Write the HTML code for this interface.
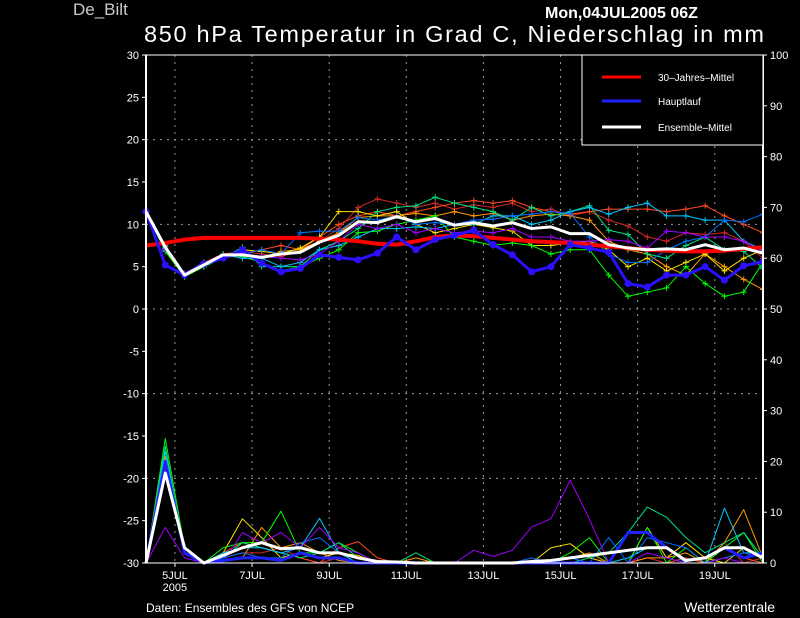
<!DOCTYPE html>
<html><head><meta charset="utf-8"><style>
html,body{margin:0;padding:0;background:#000;}
svg{display:block;font-family:"Liberation Sans",sans-serif;}
</style></head><body>
<svg id="c" width="800" height="618" xmlns="http://www.w3.org/2000/svg"></svg>
<script>
const tempTicks=[30,25,20,15,10,5,0,-5,-10,-15,-20,-25,-30];
const rainTicks=[0,10,20,30,40,50,60,70,80,90,100];
const dateLabels=["5JUL","7JUL","9JUL","11JUL","13JUL","15JUL","17JUL","19JUL"];
const dateDays=[0,2,4,6,8,10,12,14];
const climTemp=[7.5,7.8,8.2,8.4,8.4,8.4,8.4,8.4,8.4,8.3,8.2,8.0,7.7,7.6,8.0,8.5,8.7,8.6,8.4,8.2,8.0,7.9,7.8,7.6,7.4,7.2,7.0,6.9,6.8,6.8,6.9,7.1,7.3];
const mainTemp=[11.5,5.2,4.0,5.3,6.0,7.0,5.4,4.4,4.8,6.4,6.1,5.8,6.6,8.5,7.0,8.2,8.7,9.3,7.6,6.4,4.4,5.0,7.6,7.2,6.7,3.0,2.6,4.0,4.0,5.0,3.4,5.1,5.6];
const meanTemp=[11.5,7.3,4.0,5.2,6.4,6.4,6.1,6.5,6.7,7.9,8.7,10.3,10.2,10.9,10.3,10.7,9.9,10.2,9.8,10.2,9.5,9.7,8.9,8.9,7.6,7.2,7.0,7.1,7.0,7.6,7.0,7.2,6.6];
const memberTemps=[
[11.5,7,4,5.5,6.5,6.8,6.5,6.2,6.8,8,9.5,12,13,12.5,12,12.5,11.8,12.3,12,12.5,11.5,11.8,11,11.5,10.5,9.8,8.5,8,9,8.8,9,8,6],
[11.3,7.5,4,5,6.2,6.5,7,7.5,7,8.5,10,11,11.5,11,11.5,12,12.5,12.8,12.5,12.8,12,11.5,11.2,11.5,11.8,11.8,11.8,11.5,11.8,12.2,11,10,9],
[11.4,7.2,4.2,5.5,6,6.5,6,6.8,7,8,9,10.8,11,11,11.3,11,11.5,11,11.3,10.5,11,11.2,11,10.5,8,7,6.5,5,4,6.5,5,3.5,2.3],
[11.5,7,4,5.2,6.2,7,6.8,6.5,7.2,8.5,11.5,11.5,11,11.5,10,9,9.5,10,9.6,9.2,7.5,7.5,7.8,8,7,5,6,4.5,5.5,6.5,4.5,6,7],
[11.5,6.8,3.8,5,6.5,6.2,5.5,4.5,5,6,7,9,9.2,10,10.5,11,8.5,8,7.5,7.8,7.5,6.5,7,7,4,1.5,2,2.5,5,3,1.5,2,5.5],
[11.2,7,4,5,6,7.3,5,5,5,7,8,9.5,11.5,12,12.2,13.2,12.5,12,11.5,10.5,12,11,11.5,12.2,9.3,8.8,6.5,6,7.5,8.5,7,6.8,4.8],
[11.5,7.4,4,5.3,6.4,6,6,5,5.5,7,7.5,8.5,9.5,9.5,9.7,9.5,10,10,11,11,10,10.5,11.5,12,11.2,12,12.5,11,11,10.5,10.5,8,7],
[11.5,7,4.2,5.5,6,6.5,7,6.5,9,9.2,9.2,10.8,10.5,11,10,10.2,10,10.5,10.6,11,11.2,11.5,11.3,8.5,6.5,5.5,5.5,7,8,8.5,10.5,10.3,11.2],
[11.6,7.1,4.2,5.4,6.3,6.6,6.2,6,5.8,6.5,8,10,9.5,10,9,9.5,9,9.2,9,9.5,8.5,8.5,8,8,8.2,8,7.2,9.2,9,8.5,8.5,8,6.8]
];
const memberRain=[
[0,19,2,0,1,2,2,3,1,0,1,0,0,0,0,0,0,0,0,0,0,0,0,0,0,0,1,0,0,0,4,0,1],
[0,20,3,0,2,4,3,2,1,0,3,4.2,1,0,0,0,0,0,0,0,0,0,0,0,0,0,0,0,1,0,3,1,0],
[0,21,3,0,0.5,1,7,3,4,2,0.5,0,0,0,1,0,0,0,0,0,0,0,1,2,0,0,1,1,2,0,4,10.5,1],
[0,19,3,0,2,8.7,5,1,2,1,2,1.5,0,0,0,0,0,0,0,0,0,3,3.8,1,0,0,7,1,4,1,0,3,1],
[0,24.5,3,0,3,4,4,10.2,2,2,4,2,0,0,0,0,0,0,0,0,0,0,2,5,0,0,7,0,3,0,3,6,0],
[0,23,2,0,1,4,3,2,1,2,4,1,0,0,2,0,0,0,0,0,0,0,0,1,2,6,11,9,5,2,4,6,1],
[0,22,2,0,2,3,3,2,3,8.8,2,0,0,0,0,0,0,0,0,0,0,0,0,0,0,1,3,3,0,0,10.8,2,2],
[0,20,2,0,1,2,1,1,4,5,2,1,0,0,0,0,0,0,0,0,1,0,1,0,5,0,5,4,3,0,1,2,1],
[0,7,1,0,0,6,4,6,3,7,3,2,0,0,0,0,0,2.5,1.3,2.5,7.1,8.7,16.3,8.6,0,0,2,1,0,0,1,0,0]
];
const mainRain=[0,20,2,0,0.5,1,1,0.5,2,1,1,0,0,0,0,0,0,0,0,0,0,0,0,0,0,6,6,3,0.5,1,3,1,2];
const meanRain=[0,17.7,3,0,1.5,3,4,2.8,3,2,2,1,0.3,0.2,0,0,0,0,0,0,0.3,0.5,1,1.5,2,2.5,3,3,0.5,1,3,3,1];
const memberColors=["#d02828","#ff4a20","#ff9a00","#ffe000","#00ff00","#00e080","#00c8ff","#0070ff","#a000ff"];

const svg=document.getElementById('c');
const NS="http://www.w3.org/2000/svg";
const X0=146,X1=763,Y0=55,Y1=563;
const step=(X1-X0)/32;
const xk=k=>X0+k*step;
const xDay=d=>X0+(18+d*24)*step/12;
const yT=v=>309-(v)*(Y1-Y0)/60;
const yR=v=>Y1-v*(Y1-Y0)/100;
function el(tag,attrs,parent){const e=document.createElementNS(NS,tag);for(const k in attrs)e.setAttribute(k,attrs[k]);(parent||svg).appendChild(e);return e;}
function txt(s,attrs){const e=el('text',attrs);e.textContent=s;return e;}

// grid
const grid=el('g',{});


[20,10,0,-10,-20].forEach(v=>el('line',{x1:X0,x2:X1,y1:yT(v),y2:yT(v),stroke:'#999','stroke-dasharray':'2,5','stroke-width':1},grid));
dateDays.forEach(d=>el('line',{x1:xDay(d),x2:xDay(d),y1:Y0,y2:Y1,stroke:'#999','stroke-dasharray':'2,5','stroke-width':1},grid));

function poly(vals,fy,color,w,name){
  const p=el('polyline',{points:vals.map((v,k)=>xk(k)+','+fy(v)).join(' '),fill:'none',stroke:color,'stroke-width':w,'stroke-linejoin':'round'});
  
  
  return p;
}
function crosses(vals,color){
  vals.forEach((v,k)=>{if(k===0)return;const x=xk(k),y=yT(v);
    el('path',{d:`M${x-3},${y}H${x+3}M${x},${y-3}V${y+3}`,stroke:color,'stroke-width':1});});
}
// rain members
memberRain.forEach((r,i)=>poly(r,yR,memberColors[i],1,'rain-member-'+(i+1)));
poly(mainRain,yR,'#2020ff',3,'rain-hauptlauf');
poly(meanRain,yR,'#fff',3,'rain-ensemble-mean');
// temp members
memberTemps.forEach((t,i)=>{poly(t,yT,memberColors[i],1,'temp-member-'+(i+1));crosses(t,memberColors[i]);});
poly(climTemp,yT,'#ff0000',4,'temp-30yr-mean');
poly(mainTemp,yT,'#2a10ff',3,'temp-hauptlauf');
mainTemp.forEach((v,k)=>{const c=el('circle',{cx:xk(k),cy:yT(v),r:3.5,fill:'#2a10ff'});});
poly(meanTemp,yT,'#fff',3,'temp-ensemble-mean');

// cover overflow beyond plot
el('rect',{x:X1+1,y:Y0,width:40,height:Y1-Y0,fill:'#000'});
// axes
const ax=el('g',{});


el('line',{x1:X0,x2:X0,y1:Y0,y2:Y1,stroke:'#fff','stroke-width':2},ax);
el('line',{x1:X1,x2:X1,y1:Y0,y2:Y1,stroke:'#fff','stroke-width':2},ax);
el('line',{x1:X0,x2:X1,y1:Y0,y2:Y0,stroke:'#fff','stroke-width':1},ax);
el('line',{x1:X0,x2:X1,y1:Y1,y2:Y1,stroke:'#fff','stroke-width':1},ax);
tempTicks.forEach(v=>{el('line',{x1:X0-4,x2:X0,y1:yT(v),y2:yT(v),stroke:'#fff'},ax);
  const t=txt(String(v),{x:X0-7,y:yT(v)+4,fill:'#fff','font-size':11,'text-anchor':'end'});
  
  });
rainTicks.forEach(v=>{el('line',{x1:X1,x2:X1+4,y1:yR(v),y2:yR(v),stroke:'#fff'},ax);
  const t=txt(String(v),{x:X1+7,y:yR(v)+4,fill:'#fff','font-size':11});
  
  });
dateLabels.forEach((s,i)=>{el('line',{x1:xDay(dateDays[i]),x2:xDay(dateDays[i]),y1:Y1,y2:Y1+4,stroke:'#fff'},ax);
  const t=txt(s,{x:xDay(dateDays[i]),y:Y1+16,fill:'#fff','font-size':11,'text-anchor':'middle'});
  
  });
const yr=txt('2005',{x:xDay(0),y:Y1+28,fill:'#fff','font-size':11,'text-anchor':'middle'});



// legend
const lg=el('g',{});


el('rect',{x:582,y:55,width:181,height:90,fill:'#000',stroke:'#fff','stroke-width':1},lg);
[['30\u2013Jahres\u2013Mittel','#ff0000',77],['Hauptlauf','#2020ff',101],['Ensemble\u2013Mittel','#fff',127]].forEach(([s,c,y])=>{
  el('line',{x1:602,x2:641,y1:y,y2:y,stroke:c,'stroke-width':3},lg);
  const t=el('text',{x:658,y:y+4,fill:'#fff','font-size':10},lg);t.textContent=s;
  
  
});
</script>
<svg style="position:absolute;left:0;top:0" width="800" height="618" xmlns="http://www.w3.org/2000/svg">
<text x="73" y="15" fill="#ccc" font-size="17" font-family="Liberation Sans,sans-serif">De_Bilt</text>
<text x="545" y="18" fill="#fff" font-size="16" font-weight="bold" font-family="Liberation Sans,sans-serif">Mon,04JUL2005 06Z</text>
<text x="144" y="42" fill="#fff" font-size="23.5" font-family="Liberation Sans,sans-serif" textLength="620">850 hPa Temperatur in Grad C, Niederschlag in mm</text>
<text x="146" y="612" fill="#fff" font-size="12" font-family="Liberation Sans,sans-serif">Daten: Ensembles des GFS von NCEP</text>
<text x="775" y="612" fill="#fff" font-size="14" text-anchor="end" font-family="Liberation Sans,sans-serif">Wetterzentrale</text>
</svg>
</body></html>
